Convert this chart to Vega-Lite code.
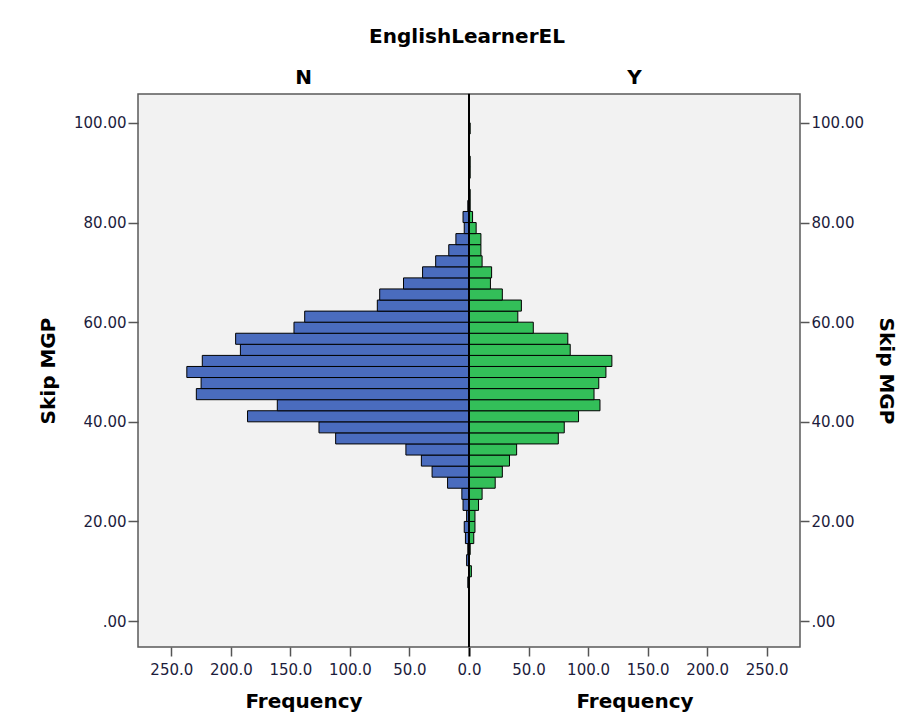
{
  "$schema": "https://vega.github.io/schema/vega-lite/v6.json",
  "background": "white",
  "padding": {"left": 37, "top": 27, "right": 6, "bottom": 0},
  "bounds": "flush",
  "title": {"text": "EnglishLearnerEL", "font": "DejaVu Sans", "fontSize": 20, "fontWeight": "bold", "color": "black", "anchor": "middle", "baseline": "alphabetic", "offset": 4},
  "data": {"values": [
    {"el": "N", "lo": 6.67, "hi": 8.89, "count": 1},
    {"el": "N", "lo": 11.11, "hi": 13.33, "count": 2},
    {"el": "N", "lo": 13.33, "hi": 15.56, "count": 1},
    {"el": "N", "lo": 15.56, "hi": 17.78, "count": 3},
    {"el": "N", "lo": 17.78, "hi": 20, "count": 4},
    {"el": "N", "lo": 20, "hi": 22.22, "count": 2},
    {"el": "N", "lo": 22.22, "hi": 24.44, "count": 5},
    {"el": "N", "lo": 24.44, "hi": 26.67, "count": 6},
    {"el": "N", "lo": 26.67, "hi": 28.89, "count": 18},
    {"el": "N", "lo": 28.89, "hi": 31.11, "count": 31},
    {"el": "N", "lo": 31.11, "hi": 33.33, "count": 40},
    {"el": "N", "lo": 33.33, "hi": 35.56, "count": 53},
    {"el": "N", "lo": 35.56, "hi": 37.78, "count": 112},
    {"el": "N", "lo": 37.78, "hi": 40, "count": 126},
    {"el": "N", "lo": 40, "hi": 42.22, "count": 186},
    {"el": "N", "lo": 42.22, "hi": 44.44, "count": 161},
    {"el": "N", "lo": 44.44, "hi": 46.67, "count": 229},
    {"el": "N", "lo": 46.67, "hi": 48.89, "count": 225},
    {"el": "N", "lo": 48.89, "hi": 51.11, "count": 237},
    {"el": "N", "lo": 51.11, "hi": 53.33, "count": 224},
    {"el": "N", "lo": 53.33, "hi": 55.56, "count": 192},
    {"el": "N", "lo": 55.56, "hi": 57.78, "count": 196},
    {"el": "N", "lo": 57.78, "hi": 60, "count": 147},
    {"el": "N", "lo": 60, "hi": 62.22, "count": 138},
    {"el": "N", "lo": 62.22, "hi": 64.44, "count": 77},
    {"el": "N", "lo": 64.44, "hi": 66.67, "count": 75},
    {"el": "N", "lo": 66.67, "hi": 68.89, "count": 55},
    {"el": "N", "lo": 68.89, "hi": 71.11, "count": 39},
    {"el": "N", "lo": 71.11, "hi": 73.33, "count": 28},
    {"el": "N", "lo": 73.33, "hi": 75.56, "count": 17},
    {"el": "N", "lo": 75.56, "hi": 77.78, "count": 11},
    {"el": "N", "lo": 77.78, "hi": 80, "count": 4},
    {"el": "N", "lo": 80, "hi": 82.22, "count": 5},
    {"el": "N", "lo": 82.22, "hi": 84.44, "count": 1},
    {"el": "Y", "lo": 8.89, "hi": 11.11, "count": 2},
    {"el": "Y", "lo": 13.33, "hi": 15.56, "count": 1},
    {"el": "Y", "lo": 15.56, "hi": 17.78, "count": 4},
    {"el": "Y", "lo": 17.78, "hi": 20, "count": 5},
    {"el": "Y", "lo": 20, "hi": 22.22, "count": 5},
    {"el": "Y", "lo": 22.22, "hi": 24.44, "count": 8},
    {"el": "Y", "lo": 24.44, "hi": 26.67, "count": 11},
    {"el": "Y", "lo": 26.67, "hi": 28.89, "count": 22},
    {"el": "Y", "lo": 28.89, "hi": 31.11, "count": 28},
    {"el": "Y", "lo": 31.11, "hi": 33.33, "count": 34},
    {"el": "Y", "lo": 33.33, "hi": 35.56, "count": 40},
    {"el": "Y", "lo": 35.56, "hi": 37.78, "count": 75},
    {"el": "Y", "lo": 37.78, "hi": 40, "count": 80},
    {"el": "Y", "lo": 40, "hi": 42.22, "count": 92},
    {"el": "Y", "lo": 42.22, "hi": 44.44, "count": 110},
    {"el": "Y", "lo": 44.44, "hi": 46.67, "count": 105},
    {"el": "Y", "lo": 46.67, "hi": 48.89, "count": 109},
    {"el": "Y", "lo": 48.89, "hi": 51.11, "count": 115},
    {"el": "Y", "lo": 51.11, "hi": 53.33, "count": 120},
    {"el": "Y", "lo": 53.33, "hi": 55.56, "count": 85},
    {"el": "Y", "lo": 55.56, "hi": 57.78, "count": 83},
    {"el": "Y", "lo": 57.78, "hi": 60, "count": 54},
    {"el": "Y", "lo": 60, "hi": 62.22, "count": 41},
    {"el": "Y", "lo": 62.22, "hi": 64.44, "count": 44},
    {"el": "Y", "lo": 64.44, "hi": 66.67, "count": 28},
    {"el": "Y", "lo": 66.67, "hi": 68.89, "count": 18},
    {"el": "Y", "lo": 68.89, "hi": 71.11, "count": 19},
    {"el": "Y", "lo": 71.11, "hi": 73.33, "count": 11},
    {"el": "Y", "lo": 73.33, "hi": 75.56, "count": 10},
    {"el": "Y", "lo": 75.56, "hi": 77.78, "count": 10},
    {"el": "Y", "lo": 77.78, "hi": 80, "count": 6},
    {"el": "Y", "lo": 80, "hi": 82.22, "count": 3},
    {"el": "Y", "lo": 82.22, "hi": 84.44, "count": 1},
    {"el": "Y", "lo": 84.44, "hi": 86.67, "count": 1},
    {"el": "Y", "lo": 88.89, "hi": 91.11, "count": 1},
    {"el": "Y", "lo": 91.11, "hi": 93.33, "count": 1},
    {"el": "Y", "lo": 97.78, "hi": 100, "count": 1}
  ]},
  "spacing": 0,
  "hconcat": [
    {
      "width": 331,
      "height": 553,
      "title": {"text": "N", "anchor": "middle", "baseline": "alphabetic", "offset": -11, "fontSize": 20, "fontWeight": "bold", "font": "DejaVu Sans", "color": "black"},
      "transform": [{"filter": "datum.el == 'N'"}],
      "layer": [
        {
          "mark": {"type": "rect", "fill": "#4a6cbe", "stroke": "black", "strokeWidth": 1},
          "encoding": {
            "y": {"field": "lo", "type": "quantitative", "scale": {"domain": [-5.2, 105.8], "nice": false, "zero": false},
              "axis": {"orient": "left", "values": [0, 20, 40, 60, 80, 100], "labelExpr": "datum.value == 0 ? '.00' : format(datum.value, '.2f')", "title": "Skip MGP", "titlePadding": 15, "tickSize": 10, "labelPadding": 2, "grid": false, "domain": false}},
            "y2": {"field": "hi"},
            "x": {"field": "count", "type": "quantitative", "scale": {"domain": [0, 278], "reverse": true, "nice": false},
              "axis": {"values": [0, 50, 100, 150, 200, 250], "format": ".1f", "title": "Frequency", "tickSize": 9, "labelPadding": 6, "titlePadding": 14, "grid": false, "domain": false,
                "tickColor": {"condition": {"test": "datum.value == 0", "value": "black"}, "value": "#555555"},
                "tickWidth": {"condition": {"test": "datum.value == 0", "value": 2}, "value": 1.5}}},
            "x2": {"datum": 0}
          }
        },
        {
          "data": {"values": [{}]},
          "mark": {"type": "rule", "color": "black", "strokeWidth": 2},
          "encoding": {"x": {"datum": 0, "type": "quantitative"}}
        }
      ]
    },
    {
      "width": 331,
      "height": 553,
      "title": {"text": "Y", "anchor": "middle", "baseline": "alphabetic", "offset": -11, "fontSize": 20, "fontWeight": "bold", "font": "DejaVu Sans", "color": "black"},
      "transform": [{"filter": "datum.el == 'Y'"}],
      "layer": [
        {
          "mark": {"type": "rect", "fill": "#33bf59", "stroke": "black", "strokeWidth": 1},
          "encoding": {
            "y": {"field": "lo", "type": "quantitative", "scale": {"domain": [-5.2, 105.8], "nice": false, "zero": false},
              "axis": {"orient": "right", "values": [0, 20, 40, 60, 80, 100], "labelExpr": "datum.value == 0 ? '.00' : format(datum.value, '.2f')", "title": "Skip MGP", "titlePadding": 12, "tickSize": 9, "labelPadding": 2, "grid": false, "domain": false}},
            "y2": {"field": "hi"},
            "x": {"field": "count", "type": "quantitative", "scale": {"domain": [0, 278], "nice": false},
              "axis": {"values": [50, 100, 150, 200, 250], "format": ".1f", "title": "Frequency", "tickSize": 9, "labelPadding": 6, "titlePadding": 14, "grid": false, "domain": false}},
            "x2": {"datum": 0}
          }
        },
        {
          "data": {"values": [{}]},
          "mark": {"type": "rule", "color": "black", "strokeWidth": 2},
          "encoding": {"x": {"datum": 0, "type": "quantitative"}}
        }
      ]
    }
  ],
  "config": {
    "font": "DejaVu Sans",
    "view": {"fill": "#f2f2f2", "stroke": "#5a5a5a", "strokeWidth": 1.5},
    "axis": {"labelFont": "DejaVu Sans", "labelFontSize": 15, "labelColor": "#1c1c3c", "titleFont": "DejaVu Sans", "titleFontSize": 20, "titleFontWeight": "bold", "titleColor": "black", "tickColor": "#555555", "tickWidth": 1.5, "labelFlush": false, "labelOverlap": false}
  }
}
